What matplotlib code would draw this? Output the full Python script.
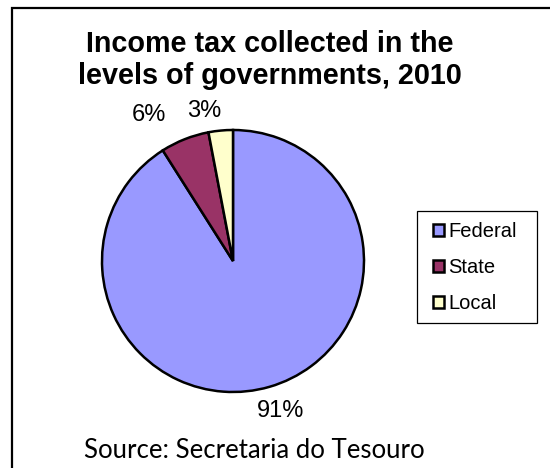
import numpy as np
import matplotlib
matplotlib.use("Agg")
import matplotlib.pyplot as plt
from matplotlib.patches import Rectangle

# data
categories = ["Federal", "State", "Local"]
shares = [91, 6, 3]
colors = ["#9999FF", "#993366", "#FFFFCC"]
title = "Income tax collected in the\nlevels of governments, 2010"
source = "Source: Secretaria do Tesouro"

# label placement (angle shift in deg, distance in radii), Excel-like
label_pos = [(1.5, 1.2), (8.4, 1.29), (5.6, 1.17)]

W, H = 550, 468
fig = plt.figure(figsize=(W / 100, H / 100), dpi=100)
fig.patch.set_facecolor("white")


def px_box(x0, y0, x1, y1, **kw):
    # rectangle given in image pixels (origin top-left)
    return Rectangle((x0 / W, 1 - y1 / H), (x1 - x0) / W, (y1 - y0) / H,
                     transform=fig.transFigure, fill=False, **kw)


# outer chart-area border (runs off the right/bottom edge like the source)
fig.add_artist(px_box(11.5, 7.5, 700, 600, ec="black", lw=1.6))

cx, cy, r = 233, 261, 131
ax = fig.add_axes([(cx - r) / W, (H - cy - r) / H, 2 * r / W, 2 * r / H])
wedges, _ = ax.pie(shares, colors=colors, startangle=90, counterclock=False,
                   wedgeprops=dict(edgecolor="black", linewidth=1.8))
ax.set_xlim(-1, 1)
ax.set_ylim(-1, 1)
ax.set_aspect("auto")
ax.axis("off")

for w, v, (da, d) in zip(wedges, shares, label_pos):
    ang = np.deg2rad((w.theta1 + w.theta2) / 2 + da)
    ax.text(d * np.cos(ang), d * np.sin(ang), f"{v}%", ha="center", va="center",
            fontsize=17, family="Liberation Sans", clip_on=False)

fig.text(270 / W, 1 - 60 / H, title, ha="center", va="center", fontsize=20.7,
         fontweight="bold", family="Liberation Sans", linespacing=1.15)
fig.text(254 / W, 1 - 451 / H, source, ha="center", va="center", fontsize=18.5,
         family="Lato")

# legend: entries centred in an Excel-style box
fig.add_artist(px_box(417.5, 210.5, 537.5, 322.5, ec="black", lw=0.9))
leg = fig.legend(wedges, categories, loc="center",
                 bbox_to_anchor=(475 / W, 1 - 267.5 / H), frameon=False,
                 prop=dict(family="Liberation Sans", size=14.5), handlelength=0.55,
                 handleheight=0.55, handletextpad=0.2, labelspacing=0.85,
                 borderpad=0, borderaxespad=0)
for h in leg.legend_handles:
    h.set_linewidth(1.8)

fig.savefig("out.png", dpi=100)
